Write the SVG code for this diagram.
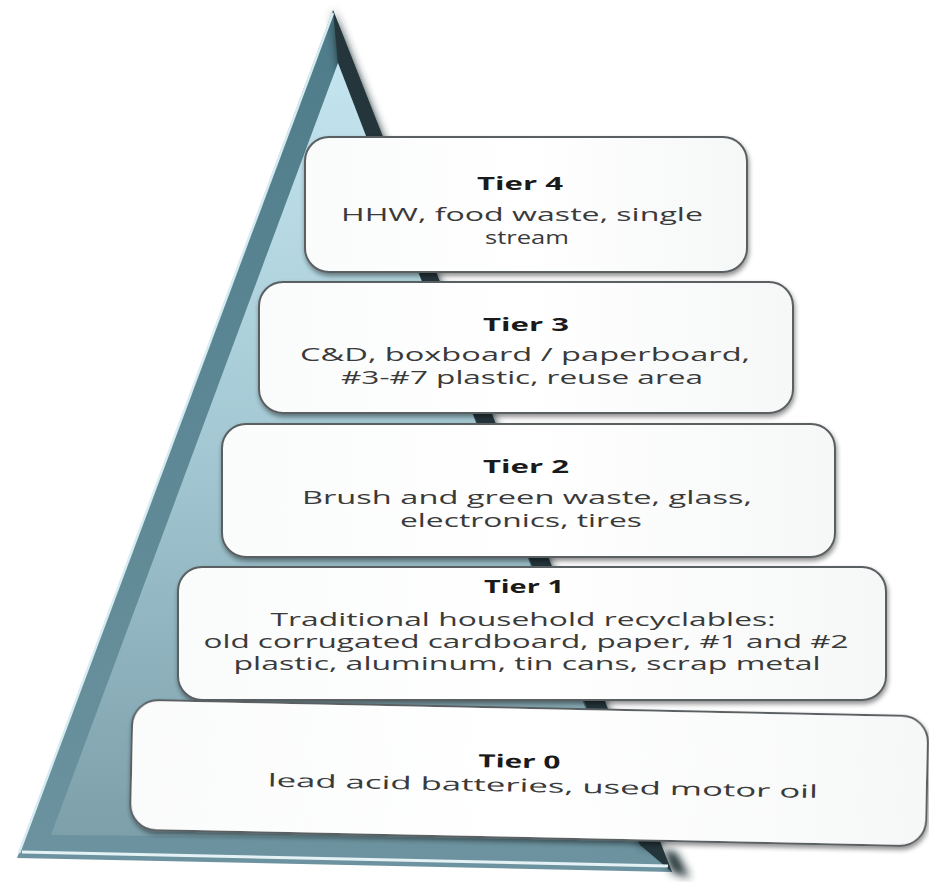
<svg xmlns="http://www.w3.org/2000/svg" width="929" height="882" viewBox="0 0 929 882">
<defs>
<linearGradient id="face" x1="0" y1="0" x2="0" y2="1">
<stop offset="0" stop-color="#c4e5ef"/>
<stop offset="0.5" stop-color="#a3c8d3"/>
<stop offset="1" stop-color="#7c9faa"/>
</linearGradient>
<linearGradient id="band" x1="0" y1="0" x2="0" y2="1">
<stop offset="0" stop-color="#4f7c8a"/>
<stop offset="1" stop-color="#6c939f"/>
</linearGradient>
<linearGradient id="boxfill" x1="0" y1="0" x2="1" y2="0">
<stop offset="0" stop-color="#fafbfb"/>
<stop offset="0.5" stop-color="#ffffff"/>
<stop offset="1" stop-color="#f6f7f7"/>
</linearGradient>
<filter id="blur" x="-20%" y="-20%" width="140%" height="140%">
<feGaussianBlur stdDeviation="4"/>
</filter>
<filter id="shadow" x="-5%" y="-10%" width="110%" height="125%">
<feGaussianBlur in="SourceAlpha" stdDeviation="2.5"/>
<feOffset dx="1" dy="3" result="b"/>
<feComponentTransfer><feFuncA type="linear" slope="0.45"/></feComponentTransfer>
<feMerge><feMergeNode/><feMergeNode in="SourceGraphic"/></feMerge>
</filter>
</defs>
<style>
.box{fill:url(#boxfill);stroke:#5a5f62;stroke-width:2;filter:url(#shadow)}
.t{font-family:"Open Sans","Liberation Sans",sans-serif;font-weight:700;font-size:18px;fill:#1a1a1a;text-anchor:middle}
.b{font-family:"Open Sans","Liberation Sans",sans-serif;font-size:18px;fill:#3a3a3a;text-anchor:middle}
</style>
<g id="pyramid">
<polygon points="333,10 17,858 672,872" fill="url(#band)"/>
<polygon points="333,10 672,872 690,878 676,852 640,845 338,63" fill="#1f2e33" filter="url(#blur)"/>
<polygon points="333,10 672,872 640,845 338,63" fill="#24353b"/>
<polygon points="338,63 51,835 636,840" fill="url(#face)"/>
<line x1="333" y1="13" x2="19" y2="853" stroke="#d6ecf2" stroke-width="2.5"/>
<line x1="22" y1="852" x2="668" y2="866" stroke="#e4f2f6" stroke-width="3"/>
</g>
<g id="tier4">
<rect class="box" x="305" y="137" width="442" height="135" rx="24"/>
<text class="t" x="520" y="190" textLength="86" lengthAdjust="spacingAndGlyphs">Tier 4</text>
<text class="b" x="522" y="221" textLength="362" lengthAdjust="spacingAndGlyphs">HHW, food waste, single</text>
<text class="b" x="527" y="244" textLength="84" lengthAdjust="spacingAndGlyphs">stream</text>
</g>
<g id="tier3">
<rect class="box" x="259" y="282" width="534" height="131" rx="24"/>
<text class="t" x="526" y="331" textLength="86" lengthAdjust="spacingAndGlyphs">Tier 3</text>
<text class="b" x="525" y="361" textLength="450" lengthAdjust="spacingAndGlyphs">C&amp;D, boxboard / paperboard,</text>
<text class="b" x="522" y="384" textLength="362" lengthAdjust="spacingAndGlyphs">#3-#7 plastic, reuse area</text>
</g>
<g id="tier2">
<rect class="box" x="222" y="424" width="613" height="133" rx="24"/>
<text class="t" x="526" y="473" textLength="86" lengthAdjust="spacingAndGlyphs">Tier 2</text>
<text class="b" x="527" y="504" textLength="450" lengthAdjust="spacingAndGlyphs">Brush and green waste, glass,</text>
<text class="b" x="521" y="527" textLength="242" lengthAdjust="spacingAndGlyphs">electronics, tires</text>
</g>
<g id="tier1">
<rect class="box" x="178" y="567" width="708" height="133" rx="24"/>
<text class="t" x="524" y="593" textLength="80" lengthAdjust="spacingAndGlyphs">Tier 1</text>
<text class="b" x="523" y="626" textLength="505" lengthAdjust="spacingAndGlyphs">Traditional household recyclables:</text>
<text class="b" x="526" y="648" textLength="645" lengthAdjust="spacingAndGlyphs">old corrugated cardboard, paper, #1 and #2</text>
<text class="b" x="527" y="670" textLength="587" lengthAdjust="spacingAndGlyphs">plastic, aluminum, tin cans, scrap metal</text>
</g>
<g id="tier0" transform="rotate(1.2 529 778)">
<rect class="box" x="131" y="708" width="796" height="130" rx="26"/>
<text class="t" x="519" y="768" textLength="82" lengthAdjust="spacingAndGlyphs">Tier 0</text>
<text class="b" x="543" y="792" textLength="550" lengthAdjust="spacingAndGlyphs">lead acid batteries, used motor oil</text>
</g>
</svg>
